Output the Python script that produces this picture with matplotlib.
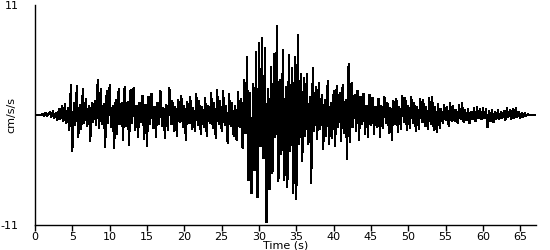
import numpy as np
import matplotlib
matplotlib.use('Agg')
import matplotlib.pyplot as plt

plt.rcParams['axes.unicode_minus'] = False

# acceleration peaks, one every 0.2 s (one row = 2 s)
dt = 0.2
accel = [
    0, 0, 0, 0, 0, 0.1, -0.1, 0.2, -0.1, 0.1,
    0.3, -0.2, 0.4, -0.3, 0.2, -0.5, 0.6, -0.4, 0.9, -0.6,
    1.1, -0.8, 0.7, -1.5, 3.0, -3.6, 1.2, -1.0, 2.9, -2.2,
    1.0, -1.4, 2.6, -0.8, 1.6, -1.1, 0.9, -2.6, 1.2, -0.7,
    1.4, -1.0, 3.5, -1.3, 2.6, -0.9, 1.1, -3.2, 2.4, -0.8,
    3.0, -1.2, 0.9, -3.3, 1.5, -1.9, 2.6, -0.9, 1.2, -2.5,
    2.8, -1.1, 1.3, -3.0, 2.5, -0.8, 2.7, -1.5, 0.9, -2.2,
    1.2, -0.7, 1.9, -2.4, 1.0, -3.1, 1.8, -0.9, 2.1, -1.3,
    0.8, -2.2, 1.2, -0.9, 2.4, -1.1, 0.7, -2.3, 1.0, -1.5,
    2.7, -0.9, 1.4, -1.6, 0.8, -2.1, 1.5, -0.7, 1.9, -1.2,
    0.9, -2.5, 1.3, -0.8, 1.8, -1.4, 0.7, -1.6, 2.1, -1.0,
    1.4, -1.9, 0.8, -1.2, 1.7, -2.1, 0.9, -0.8, 2.2, -1.3,
    1.2, -2.3, 2.5, -0.9, 1.4, -1.6, 2.4, -1.0, 0.9, -2.8,
    2.1, -1.1, 1.2, -2.1, 0.9, -2.5, 2.3, -1.2, 1.6, -3.3,
    3.5, -1.8, 5.8, -6.5, 2.2, -7.8, 3.1, -5.5, 6.3, -8.2,
    7.2, -3.1, 7.7, -4.3, 6.7, -10.7, 2.6, -7.4, 4.8, -5.8,
    6.1, -2.2, 8.9, -6.6, 3.5, -3.9, 6.5, -6.5, 2.8, -7.2,
    6.0, -3.6, 4.7, -7.8, 5.8, -8.4, 8.0, -2.9, 4.1, -4.6,
    3.7, -2.1, 4.1, -2.9, 1.8, -6.8, 4.7, -1.6, 2.8, -2.4,
    3.2, -1.4, 2.0, -3.4, 1.5, -2.1, 3.4, -2.9, 1.2, -2.3,
    2.4, -3.1, 2.9, -1.2, 2.2, -2.6, 3.0, -1.8, 1.5, -4.4,
    5.1, -2.7, 3.2, -1.2, 2.0, -1.6, 2.4, -2.5, 1.8, -0.9,
    2.1, -1.9, 0.9, -2.2, 2.0, -1.0, 1.7, -1.9, 0.8, -1.2,
    1.6, -2.2, 0.9, -1.3, 1.8, -0.8, 1.2, -1.8, 0.7, -2.5,
    1.4, -0.9, 1.6, -1.7, 0.8, -1.4, 1.9, -0.7, 1.7, -1.5,
    0.9, -1.3, 1.8, -0.8, 1.2, -1.6, 0.8, -1.4, 1.6, -0.7,
    1.5, -1.1, 0.8, -1.4, 1.7, -0.9, 1.8, -1.5, 0.8, -1.7,
    1.1, -1.3, 0.6, -0.8, 1.0, -0.5, 0.8, -1.1, 1.2, -0.6,
    0.9, -0.6, 0.5, -0.8, 1.0, -0.4, 1.2, -0.7, 0.5, -0.5,
    0.6, -0.8, 0.3, -0.4, 0.7, -0.6, 0.8, -0.3, 0.6, -0.4,
    0.7, -0.3, 0.6, -1.2, 0.4, -0.6, 0.5, -0.7, 0.3, -0.4,
    0.5, -0.4, 0.3, -0.3, 0.4, -0.5, 0.7, -0.2, 0.5, -0.4,
    0.6, -0.3, 0.7, -0.2, 0.3, -0.3, 0.2, -0.2, 0.2, -0.1,
    0.1, 0, 0, 0, 0, 0,
]
time = np.arange(len(accel)) * dt

y_ticks = [-11, 11]
x_ticks = [0, 5, 10, 15, 20, 25, 30, 35, 40, 45, 50, 55, 60, 65]

fig = plt.figure(figsize=(5.5, 2.5), dpi=100)
ax = fig.add_axes([35 / 550, 0.1, 501 / 550, 0.88])
ax.plot(time, accel, color='black', linewidth=0.8, antialiased=False)

ax.set_xlim(0, 67.1)
ax.set_ylim(-11, 11)
ax.set_xticks(x_ticks)
ax.set_yticks(y_ticks)
ax.tick_params(axis='x', length=4, width=1, labelsize=8, pad=1)
ax.tick_params(axis='y', length=0, labelsize=8, pad=12)
ax.set_xlabel('Time (s)', fontsize=8, labelpad=-1)
ax.set_ylabel('cm/s/s', fontsize=8)
ax.yaxis.set_label_coords(-0.038, 0.5)

for side in ['top', 'right']:
    ax.spines[side].set_visible(False)
ax.spines['left'].set_linewidth(1)
ax.spines['bottom'].set_linewidth(1)

fig.savefig('out.png', dpi=100)
